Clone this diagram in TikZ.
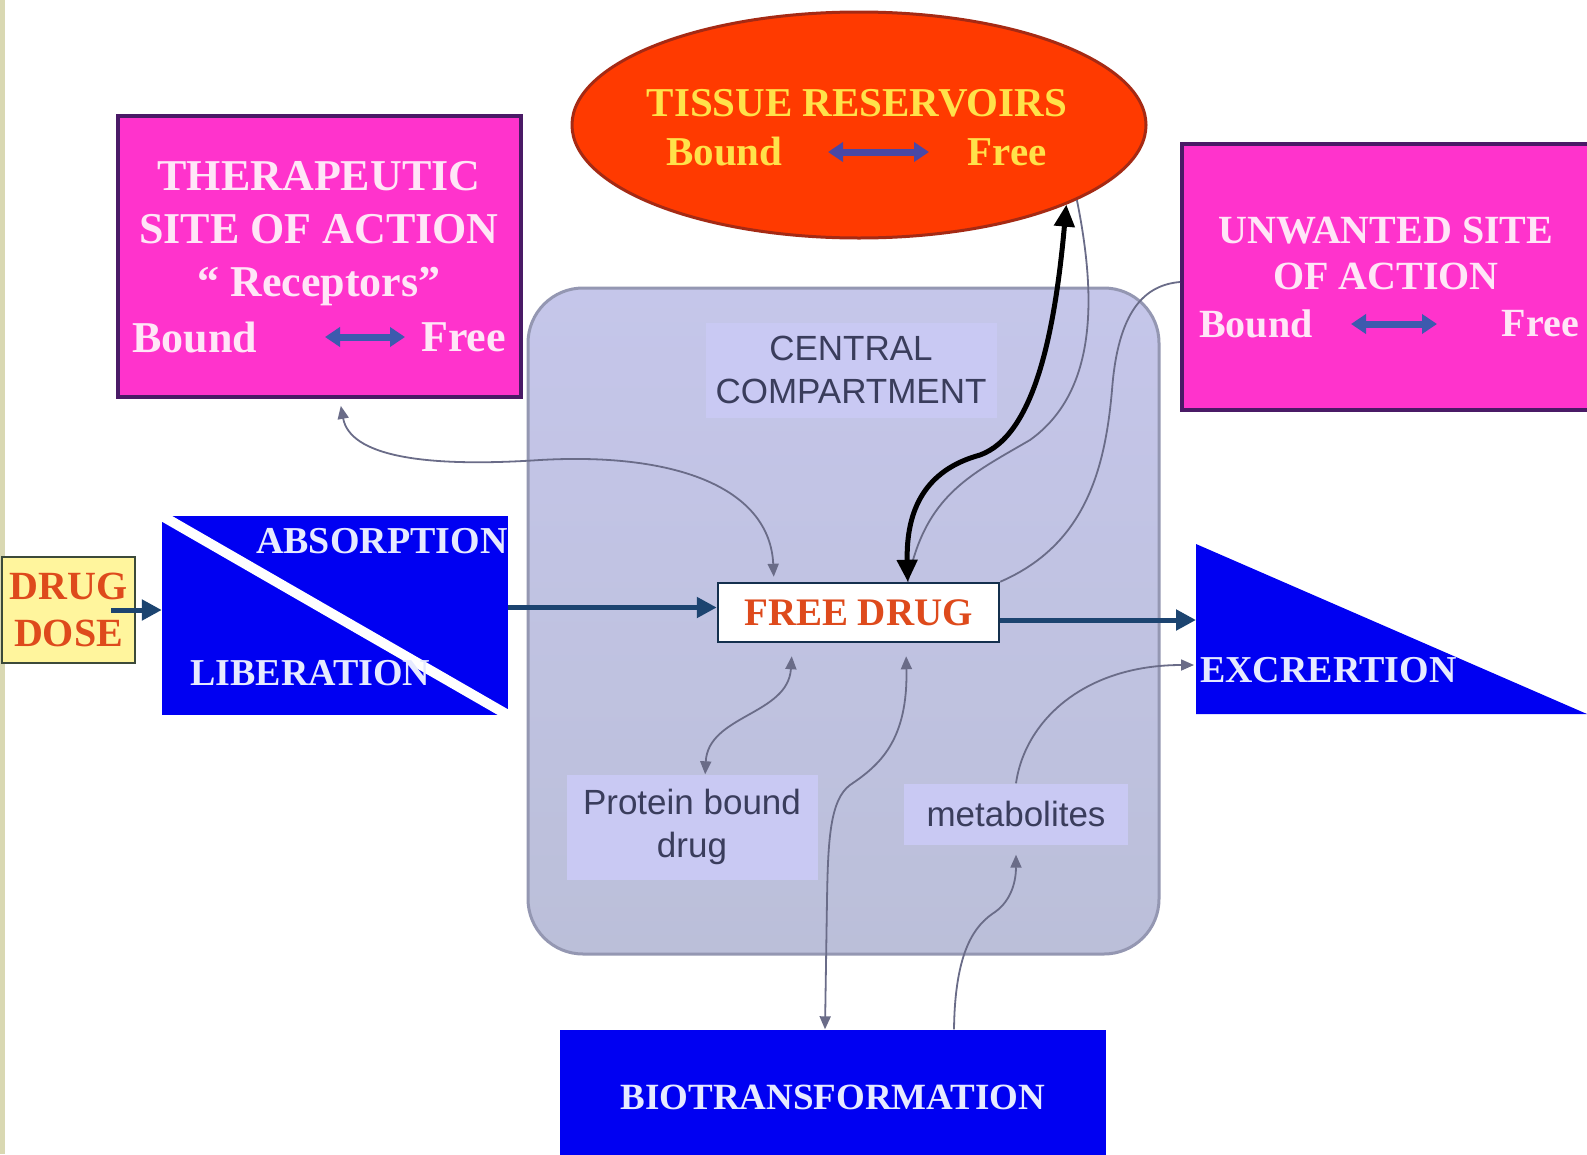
\documentclass[tikz,border=0pt]{standalone}
\usepackage{fontspec}
\setmainfont{Liberation Serif}
\newfontfamily\arialfnt{Liberation Sans}
\usepackage{xcolor}
\usepackage{tikz}
\usetikzlibrary{arrows.meta,shapes.geometric}

\definecolor{pinkbox}{HTML}{FF33CC}
\definecolor{pinkedge}{HTML}{4A1A66}
\definecolor{pinktext}{HTML}{FFE6F7}
\definecolor{deepblue}{HTML}{0000F2}
\definecolor{bluetext}{HTML}{E6EAFF}
\definecolor{tissuered}{HTML}{FF3A00}
\definecolor{tissueedge}{HTML}{A52A14}
\definecolor{tissuetext}{HTML}{FFE24A}
\definecolor{compfill}{HTML}{BBBFD9}
\definecolor{comptop}{HTML}{C5C6EA}
\definecolor{compedge}{HTML}{9497B2}
\definecolor{labelfill}{HTML}{C9C9F3}
\definecolor{labeltext}{HTML}{3A3D5C}
\definecolor{flowblue}{HTML}{1C4470}
\definecolor{linkgray}{HTML}{6A6C88}
\definecolor{dosefill}{HTML}{FFF59D}
\definecolor{doseedge}{HTML}{3C4A3A}
\definecolor{drugred}{HTML}{DE4A1C}
\definecolor{swapblue}{HTML}{3D5AAE}
\definecolor{edgestrip}{HTML}{D9D8B2}

\begin{document}
\begin{tikzpicture}[x=1pt,y=-1pt,
sitebox/.style={draw=pinkedge,line width=4pt,fill=pinkbox,inner sep=0pt},
sitetxt/.style={text=pinktext,font={\bfseries\fontsize{44}{53}\selectfont},align=center,inner sep=0pt},
tissuetxt/.style={text=tissuetext,font={\bfseries\fontsize{41}{48}\selectfont},inner sep=0pt},
bluetxt/.style={text=bluetext,font={\bfseries\fontsize{38}{46}\selectfont},inner sep=0pt},
lighttxt/.style={fill=labelfill,text=labeltext,font={\arialfnt\fontsize{35}{43}\selectfont},align=center,inner sep=0pt},
flow/.style={draw=flowblue,line width=5pt,-{Triangle[length=20pt,width=20pt]}},
link/.style={draw=linkgray,line width=1.8pt},
linkboth/.style={link,{Triangle[length=13pt,width=11pt]}-{Triangle[length=13pt,width=11pt]}},
linkto/.style={link,-{Triangle[length=13pt,width=11pt]}},
swap/.style={draw=swapblue,line width=7pt,{Triangle[length=15pt,width=19pt]}-{Triangle[length=15pt,width=19pt]}}]
\useasboundingbox (0,0) rectangle (1587,1154);
\fill[white] (0,0) rectangle (1587,1154);
\fill[edgestrip] (0,0) rectangle (5,1154);
\draw[compedge,line width=3pt,top color=comptop,bottom color=compfill,rounded corners=55pt] (528,288) rectangle (1159,954);

\node[ellipse,draw=tissueedge,line width=3pt,fill=tissuered,minimum width=574pt,minimum height=226pt,inner sep=0pt] (tissue) at (859,125) {};
\node[tissuetxt] (tissuename) at (857,103) {TISSUE RESERVOIRS};
\node[tissuetxt,anchor=west] (tbound) at (666,152) {Bound};
\node[tissuetxt,anchor=east] (tfree) at (1047,152) {Free};
\draw[swap,draw=swapblue!80!violet] ([xshift=162pt]tbound.west) -- ([xshift=-118pt]tfree.east);

\node[sitebox,minimum width=403pt,minimum height=281pt] (ther) at (319.5,256.5) {};
\node[sitetxt] (thername) at (319,234) {THERAPEUTIC\\SITE OF ACTION\\“ Receptors”};
\node[sitetxt,anchor=west] (rbound) at (132,337) {Bound};
\node[sitetxt,anchor=east] (rfree) at (506,337) {Free};
\draw[swap] ([xshift=193pt]rbound.west) -- ([xshift=-101pt]rfree.east);

\node[sitebox,minimum width=418pt,minimum height=266pt] (unw) at (1391,277) {};
\node[sitetxt,font={\bfseries\fontsize{40}{46}\selectfont}] (unwname) at (1386,253) {UNWANTED SITE\\OF ACTION};
\node[sitetxt,font={\bfseries\fontsize{40}{46}\selectfont},anchor=west] (ubound) at (1199,324) {Bound};
\node[sitetxt,font={\bfseries\fontsize{40}{46}\selectfont},anchor=east] (ufree) at (1579,324) {Free};
\draw[swap] ([xshift=152pt]ubound.west) -- ([xshift=-142pt]ufree.east);

\node[draw=doseedge,line width=2.5pt,fill=dosefill,minimum width=133pt,minimum height=106pt,inner sep=0pt,text=drugred,font={\bfseries\fontsize{40}{47}\selectfont},align=center] (dose) at (68.5,610) {DRUG\\DOSE};

\node[fill=deepblue,minimum width=346pt,minimum height=199pt,inner sep=0pt] (abs) at (335,615.5) {};
\begin{scope}
\clip (abs.north west) rectangle (abs.south east);
\draw[white,line width=10pt] (abs.north west) -- (abs.south east);
\end{scope}
\node[bluetxt,anchor=west] (absorb) at (256,541) {ABSORPTION};
\node[bluetxt,anchor=west] (liber) at (190,673) {LIBERATION};

\coordinate (exctop) at (1196,544);
\coordinate (excbot) at (1196,714);
\coordinate (exctip) at (1587,714);
\coordinate (excin) at (1196,620);
\coordinate (excmet) at (1194,665);
\fill[deepblue] (exctop) -- (excbot) -- (exctip) -- cycle;
\node[bluetxt,anchor=west] (exc) at (1200,670) {EXCRERTION};

\node[fill=deepblue,minimum width=546pt,minimum height=135pt,inner sep=0pt,text=bluetext,font={\bfseries\fontsize{37}{44}\selectfont}] (bio) at (833,1097) {BIOTRANSFORMATION};

\node[lighttxt,minimum width=291pt,minimum height=95pt] (central) at (851,370) {CENTRAL\\COMPARTMENT};
\node[lighttxt,minimum width=251pt,minimum height=105pt] (prot) at (692,827) {Protein bound\\drug};
\node[lighttxt,minimum width=224pt,minimum height=61pt] (meta) at (1016,814) {metabolites};
\node[draw=flowblue!70!black,line width=2.5pt,fill=white,minimum width=281pt,minimum height=59pt,inner sep=0pt,text=drugred,font={\bfseries\fontsize{39}{46}\selectfont}] (free) at (858.5,612.5) {FREE DRUG};

\draw[flow] ([xshift=-25pt]dose.east) -- ([yshift=5.5pt]abs.west);
\draw[flow] ([yshift=8pt]abs.east) -- ([yshift=5pt]free.west);
\draw[flow] ([yshift=-7.5pt]free.east) -- (excin);

\draw[linkboth,shorten <=5pt,shorten >=7pt] (free.160) .. controls (770,490) and (680,452) .. (540,460) .. controls (420,468) and (350,455) .. (ther.-82);
\draw[link] (tissue.-19) .. controls (1095,290) and (1100,390) .. (1030,440) .. controls (970,475) and (925,495) .. (free.32);
\draw[link] (free.north east) .. controls (1085,545) and (1105,470) .. (1112,390) .. controls (1118,310) and (1145,285) .. ([yshift=-5pt]unw.west);
\draw[linkboth,shorten <=13pt] (free.-155) .. controls (788,715) and (708,715) .. (prot.76);
\draw[linkboth,shorten <=13pt] (free.-33) .. controls (908,740) and (880,765) .. (850,785) .. controls (830,800) and (828,840) .. (827,900) -- ([xshift=-8pt]bio.north);
\draw[linkto,shorten >=10pt] ([xshift=121pt]bio.north) .. controls (955,950) and (975,925) .. (995,912) .. controls (1012,900) and (1016,880) .. (meta.south);
\draw[linkto] (meta.north) .. controls (1025,720) and (1085,665) .. (excmet);
\draw[line width=5pt,{Triangle[length=22pt,width=20pt]}-{Triangle[length=22pt,width=20pt]}] (free.32) .. controls (906,510) and (925,470) .. (980,455) .. controls (1035,435) and (1055,330) .. (tissue.-21);
\end{tikzpicture}
\end{document}
